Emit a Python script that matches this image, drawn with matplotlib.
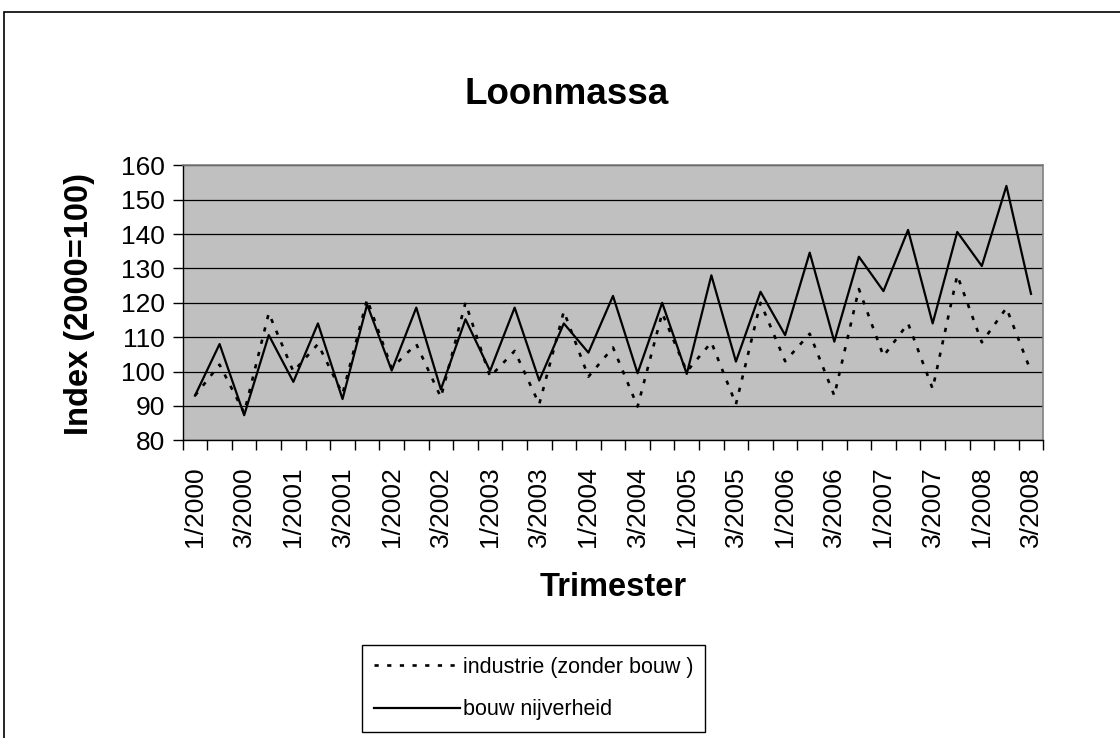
import numpy as np
import matplotlib.pyplot as plt
from matplotlib.patches import Rectangle

plt.rcParams['font.family'] = ['Liberation Sans', 'DejaVu Sans']

# quarters 1/2000 .. 3/2008
quarters = [f"{q}/{y}" for y in range(2000, 2009) for q in range(1, 5)][:35]

industrie = [93, 102, 88, 117, 100, 108, 93.5, 121, 101, 108,
             92.5, 120, 98.5, 106, 90.5, 117.5, 98.5, 107, 89.8, 117,
             100, 108.5, 90.5, 120, 103, 111, 93, 124, 104.5, 114,
             95, 128, 108.5, 118.5, 100]
bouw = [93, 108, 87.3, 110.6, 97, 114, 92, 119.5, 100.3, 118.6,
        94.8, 115.2, 100.2, 118.6, 97.4, 114, 105.5, 122, 99.5, 120,
        99.3, 128, 102.9, 123.2, 110.6, 134.6, 108.7, 133.4, 123.4, 141.2,
        114, 140.6, 130.7, 154, 122.6]

W, H = 1120, 738
fig = plt.figure(figsize=(W / 100, H / 100), dpi=100)
fig.patch.set_facecolor('white')

# outer chart border (only left and top visible in the crop)
fig.patches.append(Rectangle((4 / W, -0.1), 1.2, (H - 12) / H + 0.1,
                             transform=fig.transFigure, fill=False,
                             edgecolor='black', linewidth=1.2))

ax = fig.add_axes([182.7 / W, 1 - 440.3 / H, (1043.3 - 182.7) / W, (440.3 - 165.3) / H])
ax.set_facecolor('#c0c0c0')

x = np.arange(len(quarters))
ax.plot(x, industrie, color='black', linewidth=1.9, linestyle=(0, (1.6, 3.2)),
        dash_capstyle='butt', label='industrie (zonder bouw )')
ax.plot(x, bouw, color='black', linewidth=1.6, label='bouw nijverheid')

ax.set_xlim(-0.5, len(quarters) - 0.5)
ax.set_ylim(80, 160)
ax.set_yticks(np.arange(80, 161, 10))
ax.yaxis.grid(True, color='black', linewidth=0.9)
ax.set_axisbelow(True)

ax.set_xticks(x[::2])
ax.set_xticklabels(quarters[::2], rotation=90)
ax.set_xticks(np.arange(-0.5, len(quarters), 1), minor=True)
ax.tick_params(axis='x', which='major', length=0, pad=19, labelsize=19)
ax.tick_params(axis='x', which='minor', length=7, width=1, direction='out')
ax.tick_params(axis='y', length=7, width=1, pad=6, labelsize=19)

for side in ('top', 'right'):
    ax.spines[side].set_color('#808080')
    ax.spines[side].set_linewidth(1.2)
for side in ('left', 'bottom'):
    ax.spines[side].set_color('black')
    ax.spines[side].set_linewidth(1.0)

fig.text(567 / W, 1 - 95 / H, 'Loonmassa', ha='center', va='center',
         fontsize=26.5, fontweight='bold')
fig.text(613 / W, 1 - 588 / H, 'Trimester', ha='center', va='center',
         fontsize=23.5, fontweight='bold')
fig.text(80 / W, 1 - 304 / H, 'Index (2000=100)', ha='center', va='center',
         rotation=90, fontsize=23.5, fontweight='bold')

leg = fig.legend(loc='center', bbox_to_anchor=(533.5 / W, 1 - 688.5 / H),
                 fontsize=15.5, frameon=True, fancybox=False, framealpha=1,
                 edgecolor='black', handlelength=4.0, handletextpad=0.15,
                 labelspacing=1.0, borderpad=0.55, borderaxespad=0)
leg.get_frame().set_linewidth(1.0)

fig.savefig('out.png', dpi=100)
